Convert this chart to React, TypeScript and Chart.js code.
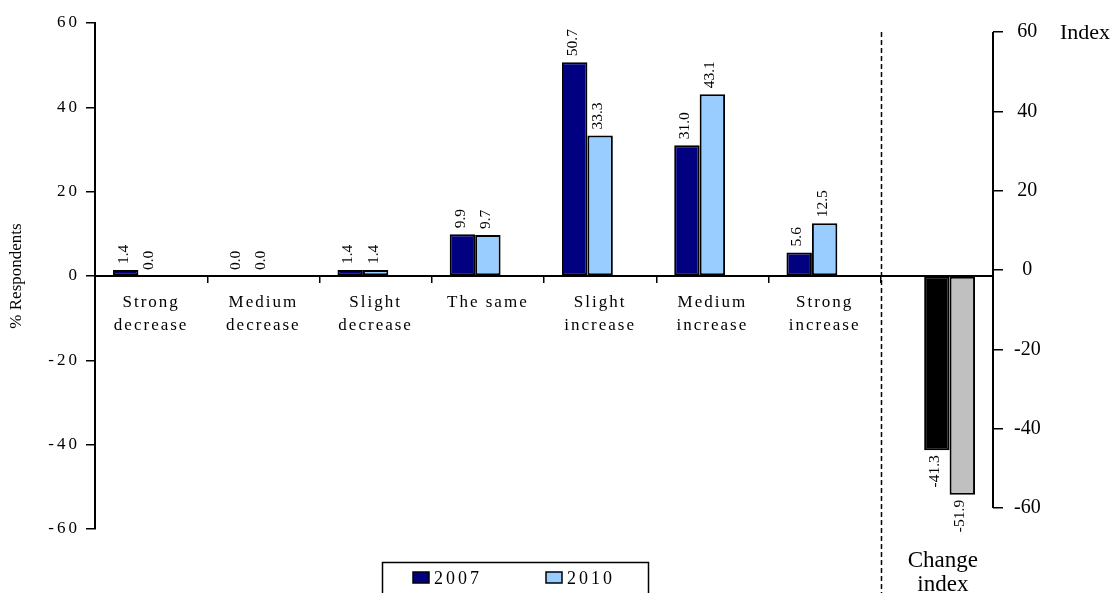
import React, { useEffect, useRef } from 'react';
import { Chart, registerables } from 'chart.js';

Chart.register(...registerables);

const W = 1118;
const H = 593;
const SERIF = '"Times New Roman", "Liberation Serif", serif';

// ---------- data ----------
const categories: (string | string[])[] = [
  ['Strong', 'decrease'],
  ['Medium', 'decrease'],
  ['Slight', 'decrease'],
  ['The same'],
  ['Slight', 'increase'],
  ['Medium', 'increase'],
  ['Strong', 'increase'],
  '',
];
const series2007 = [1.4, 0.0, 1.4, 9.9, 50.7, 31.0, 5.6];
const series2010 = [0.0, 0.0, 1.4, 9.7, 33.3, 43.1, 12.5];
const changeIndexLabel = ['Change', 'index'];
const changeIndex2007 = -41.3;
const changeIndex2010 = -51.9;
const leftTicks = [-60, -40, -20, 0, 20, 40, 60];
const rightTicks = [-60, -40, -20, 0, 20, 40, 60];
const legendLabels = ['2007', '2010'];

const NAVY = '#000080';
const LIGHT = '#99CCFF';
const BLACK = '#000000';
const GREY = '#C0C0C0';

const n = series2007.length;

const dataA = [...series2007, null];
const dataB = [...series2010, changeIndex2007];
const dataC = [...Array(n).fill(null), changeIndex2010];

const letterSpacingPlugin = {
  id: 'letterSpacingPatch',
  beforeDraw(chart: any) {
    const spacing: Record<string, string> = { x: '2px', y: '3px' };
    for (const id of Object.keys(spacing)) {
      const s: any = chart.scales[id];
      if (s && !s.__patched) {
        const orig = s.drawLabels;
        s.drawLabels = function (area: any) {
          const c = this.ctx;
          c.save();
          c.letterSpacing = spacing[id];
          orig.call(this, area);
          c.restore();
        };
        s.__patched = true;
      }
    }
  },
};

const valueLabelPlugin = {
  id: 'valueLabels',
  afterDatasetsDraw(chart: any) {
    const ctx = chart.ctx;
    ctx.save();
    ctx.font = `15.5px ${SERIF}`;
    ctx.fillStyle = '#000';
    chart.data.datasets.forEach((ds: any, i: number) => {
      const meta = chart.getDatasetMeta(i);
      meta.data.forEach((bar: any, j: number) => {
        const v = ds.data[j];
        if (v === null || v === undefined) return;
        const { x, y } = bar.getProps(['x', 'y'], true);
        const neg = v < 0;
        ctx.save();
        ctx.translate(x - 2, neg ? y + 5 : y - 6);
        ctx.rotate(-Math.PI / 2);
        ctx.textAlign = neg ? 'right' : 'left';
        ctx.textBaseline = 'middle';
        ctx.fillText(v.toFixed(1), 0, 0);
        ctx.restore();
      });
    });
    ctx.restore();
  },
};

const decorPlugin = {
  id: 'decor',
  afterDraw(chart: any) {
    const ctx = chart.ctx;
    const xs = chart.scales.x;
    const yr = chart.scales.yRight;
    const area = chart.chartArea;
    ctx.save();
    ctx.strokeStyle = '#000';
    ctx.fillStyle = '#000';

    // dashed separator between the two panels
    const sepX = Math.round(xs.getPixelForValue(n - 0.5)) + 0.5;
    ctx.lineWidth = 1.5;
    ctx.setLineDash([5, 3]);
    ctx.beginPath();
    ctx.moveTo(sepX, yr.getPixelForValue(rightTicks[rightTicks.length - 1]));
    ctx.lineTo(sepX, H);
    ctx.stroke();
    ctx.setLineDash([]);

    // right axis line between first and last tick
    const ax = yr.left;
    ctx.lineWidth = 2;
    ctx.beginPath();
    ctx.moveTo(ax, yr.getPixelForValue(rightTicks[rightTicks.length - 1]));
    ctx.lineTo(ax, yr.getPixelForValue(rightTicks[0]));
    ctx.stroke();

    // "Index" title
    ctx.font = `22px ${SERIF}`;
    ctx.textAlign = 'left';
    ctx.textBaseline = 'middle';
    ctx.fillText('Index', ax + 67, yr.getPixelForValue(rightTicks[rightTicks.length - 1]) + 1);

    // "Change index" category label
    ctx.font = `23px ${SERIF}`;
    ctx.textAlign = 'center';
    ctx.textBaseline = 'alphabetic';
    const cx = xs.getPixelForValue(n) + 6;
    ctx.fillText(changeIndexLabel[0], cx, area.bottom + 38);
    ctx.fillText(changeIndexLabel[1], cx, area.bottom + 62);

    // legend box
    ctx.lineWidth = 1.5;
    ctx.strokeRect(382.5, 562.5, 266, 40);
    const items = [
      { x: 413, color: NAVY, label: legendLabels[0] },
      { x: 546, color: LIGHT, label: legendLabels[1] },
    ];
    ctx.font = `18px ${SERIF}`;
    (ctx as any).letterSpacing = '3px';
    ctx.textAlign = 'left';
    ctx.textBaseline = 'alphabetic';
    for (const it of items) {
      ctx.fillStyle = it.color;
      ctx.fillRect(it.x, 572, 16, 11);
      ctx.lineWidth = 1.5;
      ctx.strokeStyle = '#000';
      ctx.strokeRect(it.x, 572, 16, 11);
      ctx.fillStyle = '#000';
      ctx.fillText(it.label, it.x + 21, 584);
    }
    ctx.restore();
  },
};

export default function App() {
  const ref = useRef<HTMLCanvasElement>(null);

  useEffect(() => {
    if (!ref.current) return;
    const chart = new Chart(ref.current, {
      type: 'bar',
      data: {
        labels: categories,
        datasets: [
          {
            label: legendLabels[0],
            data: dataA,
            backgroundColor: NAVY,
            borderColor: '#000',
            borderWidth: 2,
            borderSkipped: false,
            yAxisID: 'y',
          },
          {
            label: legendLabels[1],
            data: dataB,
            backgroundColor: [...Array(n).fill(LIGHT), BLACK],
            borderColor: '#000',
            borderWidth: 2,
            borderSkipped: false,
            yAxisID: 'y',
          },
          {
            label: 'Index 2010',
            data: dataC,
            backgroundColor: GREY,
            borderColor: '#000',
            borderWidth: 2,
            borderSkipped: false,
            yAxisID: 'y',
          },
        ] as any,
      },
      options: {
        animation: false,
        responsive: false,
        devicePixelRatio: 1,
        categoryPercentage: 0.68,
        barPercentage: 1,
        layout: { padding: { top: 23, bottom: 64, left: 0, right: 0 } },
        plugins: {
          legend: { display: false },
          tooltip: { enabled: false },
        },
        scales: {
          x: {
            type: 'category',
            position: { y: 0 } as any,
            offset: true,
            grid: {
              display: true,
              drawOnChartArea: false,
              drawTicks: true,
              tickLength: 6,
              color: '#000',
              lineWidth: 1.5,
              offset: true,
            },
            border: { display: true, color: '#000', width: 2 },
            ticks: {
              autoSkip: false,
              maxRotation: 0,
              minRotation: 0,
              padding: 9,
              color: '#000',
              font: { family: SERIF, size: 17, lineHeight: 1.35 },
            },
          },
          y: {
            type: 'linear',
            position: 'left',
            min: leftTicks[0],
            max: leftTicks[leftTicks.length - 1],
            afterFit: (s: any) => {
              s.width = 95;
            },
            afterBuildTicks: (s: any) => {
              s.ticks = leftTicks.map((v) => ({ value: v }));
            },
            grid: {
              display: true,
              drawOnChartArea: false,
              drawTicks: true,
              tickLength: 9,
              color: '#000',
              lineWidth: 1.5,
            },
            border: { display: true, color: '#000', width: 2 },
            ticks: {
              padding: 6,
              color: '#000',
              font: { family: SERIF, size: 17 },
              callback: (v: any) => String(v),
            },
            title: {
              display: true,
              text: '% Respondents',
              color: '#000',
              padding: { top: 6, bottom: 0 },
              font: { family: SERIF, size: 17 },
            },
          },
          yRight: {
            type: 'linear',
            position: 'right',
            min: -65.3,
            max: 62.3,
            afterFit: (s: any) => {
              s.width = W - 993;
            },
            afterBuildTicks: (s: any) => {
              s.ticks = rightTicks.map((v) => ({ value: v }));
            },
            grid: {
              display: true,
              drawOnChartArea: false,
              drawTicks: true,
              tickLength: 10,
              color: '#000',
              lineWidth: 1.5,
            },
            border: { display: false },
            ticks: {
              padding: 11,
              crossAlign: 'center',
              color: '#000',
              font: { family: SERIF, size: 20 },
              callback: (v: any) => String(v),
            },
          },
        },
      } as any,
      plugins: [letterSpacingPlugin, valueLabelPlugin, decorPlugin],
    });
    return () => chart.destroy();
  }, []);

  return (
    <div
      style={{
        position: 'absolute',
        left: 0,
        top: 0,
        width: W,
        height: H,
        background: '#fff',
        overflow: 'hidden',
      }}
    >
      <canvas ref={ref} width={W} height={H} style={{ display: 'block', width: W, height: H }} />
    </div>
  );
}
